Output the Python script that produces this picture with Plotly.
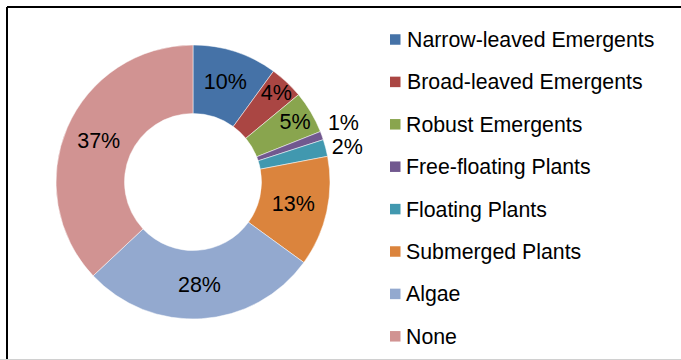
import plotly.graph_objects as go

# Share of wetland cover by vegetation class (percent)
categories = [
    "Narrow-leaved Emergents",
    "Broad-leaved Emergents",
    "Robust Emergents",
    "Free-floating Plants",
    "Floating Plants",
    "Submerged Plants",
    "Algae",
    "None",
]
shares = [10, 4, 5, 1, 2, 13, 28, 37]
colors = ["#4572A7", "#AA4643", "#89A54E", "#71588F",
          "#4198AF", "#DB843D", "#93A9CF", "#D19392"]
label_pos = ["inside", "inside", "inside", "outside",
             "outside", "inside", "inside", "inside"]

W, H = 681, 360
FONT = "Liberation Sans, Arial, sans-serif"
PCT_SIZE = 21.5

fig = go.Figure()
fig.add_trace(go.Pie(
    labels=categories,
    values=shares,
    sort=False,
    direction="clockwise",
    rotation=0,
    hole=0.5,
    marker=dict(colors=colors, line=dict(color="white", width=0.5)),
    texttemplate="%{value}%",
    textposition=label_pos,
    insidetextorientation="horizontal",
    textfont=dict(family=FONT, size=PCT_SIZE, color="black"),
    showlegend=False,
    hoverinfo="label+percent",
    domain=dict(x=[56 / W, 330 / W], y=[1 - 319 / H, 1 - 45 / H]),
))

shapes = [
    # chart frame: left and top edges dark, bottom edge light
    dict(type="line", xref="paper", yref="paper", x0=7 / W, x1=1.01,
         y0=1 - 7 / H, y1=1 - 7 / H, line=dict(color="black", width=2)),
    dict(type="line", xref="paper", yref="paper", x0=7 / W, x1=7 / W,
         y0=1 - 7 / H, y1=-0.01, line=dict(color="black", width=2)),
    dict(type="line", xref="paper", yref="paper", x0=0, x1=1,
         y0=1 - 359.5 / H, y1=1 - 359.5 / H, line=dict(color="#d0d0d0", width=1)),
]
annotations = []

# legend column
leg_x0, leg_y0, leg_step, sw = 390, 39.5, 42.4, 10.5
for i, (name, col) in enumerate(zip(categories, colors)):
    cy = leg_y0 + i * leg_step
    shapes.append(dict(type="rect", xref="paper", yref="paper",
                       x0=leg_x0 / W, x1=(leg_x0 + sw) / W,
                       y0=1 - (cy + sw / 2) / H, y1=1 - (cy - sw / 2) / H,
                       fillcolor=col, line=dict(width=0)))
    annotations.append(dict(xref="paper", yref="paper", x=404.5 / W,
                            y=1 - (cy + 0.5) / H, text=name, showarrow=False,
                            xanchor="left", yanchor="middle",
                            font=dict(family=FONT, size=21.3, color="black")))

fig.update_layout(
    width=W, height=H,
    margin=dict(l=0, r=0, t=0, b=0),
    paper_bgcolor="white", plot_bgcolor="white",
    uniformtext=dict(mode="show", minsize=PCT_SIZE),
    shapes=shapes,
    annotations=annotations,
)

# outside labels sit next to their slices without connector lines
hide_connectors = (
    "document.querySelectorAll('path.textline')"
    ".forEach(function(p){p.style.display='none';});"
)
fig.write_html("out.html", post_script=hide_connectors)
